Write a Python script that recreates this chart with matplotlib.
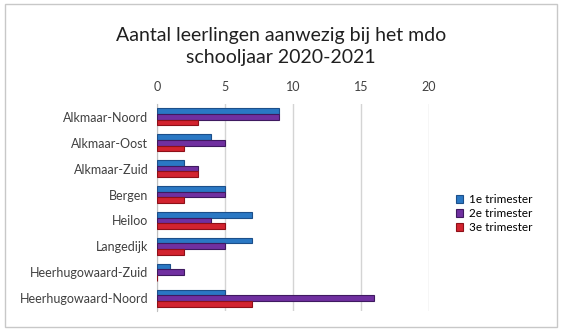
import numpy as np
import matplotlib.pyplot as plt
from matplotlib.patches import Rectangle

plt.rcParams['font.family'] = ['Lato', 'DejaVu Sans']

# data
scholen = ['Alkmaar-Noord', 'Alkmaar-Oost', 'Alkmaar-Zuid', 'Bergen', 'Heiloo',
           'Langedijk', 'Heerhugowaard-Zuid', 'Heerhugowaard-Noord']
trim1 = [9, 4, 2, 5, 7, 7, 1, 5]
trim2 = [9, 5, 3, 5, 4, 5, 2, 16]
trim3 = [3, 2, 3, 2, 5, 2, 0, 7]
reeksen = ['1e trimester', '2e trimester', '3e trimester']
kleuren = ['#2a78c4', '#7030a0', '#d2232f']
randen = ['#1c4f8a', '#3f1a60', '#8e1018']

fig = plt.figure(figsize=(5.62, 3.33), dpi=100)
fig.patches.append(Rectangle((0.009, 0.018), 0.982, 0.97, transform=fig.transFigure,
                             fill=False, edgecolor='#c8c8c8', lw=1))

ax = fig.add_axes([0.279, 0.066, 0.484, 0.622])
y = np.arange(len(scholen))
h = 0.22
for i, vals in enumerate([trim1, trim2, trim3]):
    ax.barh(y + (i - 1) * h, vals, height=h, color=kleuren[i], edgecolor=randen[i],
            linewidth=0.8, label=reeksen[i], zorder=3)

ax.set_xlim(0, 20)
ax.set_ylim(len(scholen) - 0.5, -0.5)
ax.set_xticks([0, 5, 10, 15, 20])
ax.xaxis.tick_top()
ax.tick_params(axis='x', length=0, labelsize=9, pad=8, colors='#404040')
ax.tick_params(axis='y', length=0, labelsize=9, pad=6, colors='#404040')
ax.set_yticks(y)
ax.set_yticklabels(scholen)
ax.grid(axis='x', color='#d4d4d4', lw=1, zorder=0)
for s in ['top', 'right', 'bottom']:
    ax.spines[s].set_visible(False)
ax.spines['left'].set_color('#c0c0c0')

fig.text(0.5, 0.86, 'Aantal leerlingen aanwezig bij het mdo\nschooljaar 2020-2021',
         ha='center', va='center', fontsize=14, color='#202020', linespacing=1.35)

ax.legend(loc='center left', bbox_to_anchor=(1.06, 0.47), frameon=False, fontsize=8.5,
          handlelength=0.6, handleheight=0.6, labelspacing=0.25, handletextpad=0.5)

fig.savefig('out.png', dpi=100)
